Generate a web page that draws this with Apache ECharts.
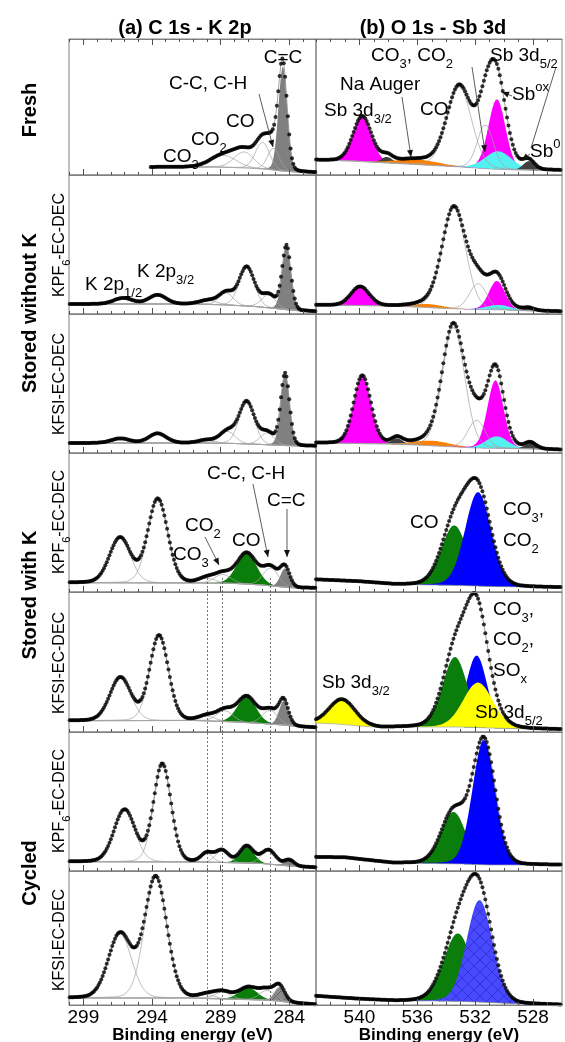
<!DOCTYPE html>
<html><head><meta charset="utf-8">
<script src="https://cdn.jsdelivr.net/npm/echarts@6/dist/echarts.min.js"></script>
<style>html,body{margin:0;padding:0;background:#fff}#c{width:565px;height:1042px}</style>
</head><body><div id="c"></div>
<script>
// ================= DATA (binding energy in eV, intensity in arbitrary units) =================
const L_TICKS = [299, 294, 289, 284];
const R_TICKS = [540, 536, 532, 528];
const C1S_REF_LINES = [290.0, 288.85, 285.35];   // dashed guide lines (CO3, CO2, C-C)

// Left column: C 1s - K 2p  (peak centre eV, height, FWHM eV, background anchors [eV, level])
const L1_names  = ['CO3','CO2','CO','C-C','C=C'];
const L1_center = [288.8, 287.3, 285.95, 285.15, 284.47];
const L1_height = [12, 16, 27, 22, 105];
const L1_fwhm   = [2.2, 1.7, 1.2, 1.0, 0.75];
const L1_bg     = [[294.1,8],[289.5,8],[287,7],[285.5,5.5],[284.6,4],[283.5,3],[282.05,2.5]];
const L1_range  = [294.1, 282.1];

const L2_names  = ['K 2p1/2','K 2p3/2','CO3','CO2','CO','C-C','C=C'];
const L2_center = [296.1, 293.6, 289.9, 288.6, 287.1, 285.5, 284.2];
const L2_height = [6, 9, 4, 12, 39, 13, 64];
const L2_fwhm   = [1.6, 1.5, 1.5, 1.2, 1.3, 1.2, 0.75];
const L2_bg     = [[300.05,10],[291,10],[288.5,9],[286.5,7.5],[285,5.5],[284,4],[283,3],[282.05,2.5]];
const L2_range  = [300.0, 282.1];

const L3_names  = ['K 2p1/2','K 2p3/2','CO3','CO2','CO','C-C','C=C'];
const L3_center = [296.3, 293.6, 290.0, 288.5, 287.1, 285.6, 284.3];
const L3_height = [4.5, 9.5, 3, 12, 42, 12, 72];
const L3_fwhm   = [1.6, 1.5, 1.4, 1.3, 1.3, 1.2, 0.75];
const L3_bg     = [[300.05,10],[291,10],[288,9.5],[286,8.5],[284.5,7.5],[283,7],[282.05,7]];
const L3_range  = [300.0, 282.1];

const L4_names  = ['K 2p1/2','K 2p3/2','CO3','CO2','CO','C-C','C=C'];
const L4_center = [296.33, 293.58, 290.0, 288.85, 287.1, 285.35, 284.3];
const L4_height = [45, 84, 5, 9, 31, 18, 19];
const L4_fwhm   = [1.8, 1.7, 1.4, 1.4, 1.7, 1.3, 0.8];
const L4_bg     = [[300.05,9.3],[291,9],[288,8.5],[286,7],[284.5,5],[283.5,4],[282.05,4]];
const L4_range  = [300.0, 282.1];

const L5_names  = ['K 2p1/2','K 2p3/2','CO3','CO2','CO','C-C','C=C'];
const L5_center = [296.3, 293.49, 290.0, 288.7, 287.1, 285.4, 284.4];
const L5_height = [43, 85, 5, 11, 26, 14, 24];
const L5_fwhm   = [1.8, 1.6, 1.4, 1.4, 1.6, 1.3, 0.8];
const L5_bg     = [[300.05,11.3],[291,11.5],[288,10],[286,8.5],[284.5,7],[283,5],[282.05,4.5]];
const L5_range  = [300.0, 282.1];

const L6_names  = ['K 2p1/2','K 2p3/2','CO3','CO2','CO','C-C','C=C'];
const L6_center = [296.0, 293.25, 290.0, 288.9, 287.1, 285.5, 284.0];
const L6_height = [52, 98, 9, 12, 17, 14, 6];
const L6_fwhm   = [1.8, 1.5, 1.0, 1.1, 1.2, 1.2, 0.8];
const L6_bg     = [[300.05,9.3],[292,9],[289,8.5],[286,7.5],[284,5],[282.05,3.5]];
const L6_range  = [300.0, 282.1];

const L7_names  = ['K 2p1/2','K 2p3/2','CO3','CO2','CO','C-C','C=C'];
const L7_center = [296.33, 293.73, 290.0, 288.85, 287.0, 285.6, 284.7];
const L7_height = [64, 121, 4, 7, 12, 10, 14];
const L7_fwhm   = [2.0, 1.9, 1.4, 1.4, 1.6, 1.3, 0.9];
const L7_bg     = [[300.05,7],[291.5,7],[289,6],[286,5],[284.8,4],[283.7,2],[282.05,0.5]];
const L7_range  = [300.0, 282.1];

// Right column: O 1s - Sb 3d
const R1_names  = ['Sb 3d3/2','Sb0 3d3/2','Na Auger','CO','CO3, CO2','Sb 3d5/2','Sbox','Sb0 3d5/2'];
const R1_center = [539.8, 538.1, 536.0, 533.1, 531.3, 530.5, 530.4, 528.3];
const R1_height = [45, 6, 5, 80, 44, 70, 18, 9];
const R1_fwhm   = [1.5, 0.9, 3.5, 2.0, 1.3, 1.4, 2.2, 0.9];
const R1_bg     = [[543,15],[540.5,14],[538,12],[535.5,10],[533,8],[531,6],[529,5],[526,4.5]];
const R1_range  = [543.0, 526.1];

const R2_names  = ['Sb 3d3/2','Na Auger','CO','CO3, CO2','Sb 3d5/2','Sbox','Sb0 3d5/2'];
const R2_center = [539.95, 535.3, 533.47, 531.8, 530.5, 530.4, 528.3];
const R2_height = [19, 3.5, 101, 26, 29, 5, 2.5];
const R2_fwhm   = [1.5, 2.5, 1.9, 1.4, 1.3, 2.0, 0.9];
const R2_bg     = [[543,9],[538,8],[536,7],[534,5.5],[532,4.5],[530,4],[528,3],[526,2.5]];
const R2_range  = [543.0, 526.1];

const R3_names  = ['Sb 3d3/2','Sb0 3d3/2','Na Auger','CO','CO3, CO2','Sb 3d5/2','Sbox','Sb0 3d5/2'];
const R3_center = [539.8, 537.4, 535.0, 533.5, 531.9, 530.6, 530.5, 528.2];
const R3_height = [68, 6, 5, 120, 28, 68, 12, 6];
const R3_fwhm   = [1.4, 0.9, 3.0, 1.8, 1.4, 1.3, 1.8, 0.9];
const R3_bg     = [[543,10],[538,9],[536,8],[534,6.5],[532,5],[530,4.5],[528,4],[526,3]];
const R3_range  = [543.0, 526.1];

const R4_names  = ['CO','CO3, CO2'];
const R4_center = [533.45, 531.8];
const R4_height = [60, 94];
const R4_fwhm   = [2.1, 2.1];
const R4_bg     = [[543,12.5],[540,10.5],[537.5,7.5],[535,7],[533,6.5],[531,5.5],[529,5],[526,4.5]];
const R4_range  = [543.0, 526.1];

const R5_names  = ['Sb 3d3/2','CO3, CO2, SOx','CO','Sb 3d5/2'];
const R5_center = [541.2, 531.9, 533.4, 531.8];
const R5_height = [25, 72, 70, 45];
const R5_fwhm   = [2.1, 1.7, 2.0, 2.4];
const R5_bg     = [[543,9],[541.5,8],[540,6],[538.5,4.5],[536,5],[533,5],[531,4],[528,3],[526,2.5]];
const R5_range  = [543.0, 526.1];

const R6_names  = ['CO','CO3, CO2'];
const R6_center = [533.5, 531.4];
const R6_height = [52, 125];
const R6_fwhm   = [2.0, 1.85];
const R6_bg     = [[543,14],[541,13.5],[539.5,11],[537.7,8],[535,7.5],[533,7],[531,6],[528,6],[526,6]];
const R6_range  = [543.0, 526.1];

const R7_names  = ['CO','CO3, CO2'];
const R7_center = [533.2, 531.7];
const R7_height = [68, 102];
const R7_fwhm   = [2.3, 2.1];
const R7_bg     = [[543,9],[540,6],[537.5,4],[535,4],[533,3.5],[531,2.5],[529,1],[526,0]];
const R7_range  = [543.0, 526.1];

// ================= STYLE / LAYOUT =================
const FF = '"Liberation Sans", Arial, Helvetica, sans-serif';
function hatch(bgc, linec){
  const c=document.createElement('canvas'); c.width=12; c.height=12;
  const g=c.getContext('2d'); g.fillStyle=bgc; g.fillRect(0,0,12,12);
  g.strokeStyle=linec; g.lineWidth=0.7; g.beginPath();
  g.moveTo(0,0); g.lineTo(12,12); g.moveTo(12,0); g.lineTo(0,12); g.stroke();
  return {image:c, repeat:'repeat'};
}
const GRAY='#808080', GREEN='#0a7d0a', BLUE='#0000ff', MAG='#ff00ff', CYAN='#55f0f0', ORG='#ff8000', DKG='#404040', YEL='#ffff00';
const BLUE_H = hatch('#4848ff','#2a2ac8');
const GRAY_H = hatch('#8a8a8a','#555555');
const FILLS = {
  L1:{'C=C':GRAY}, L2:{'C=C':GRAY}, L3:{'C=C':GRAY},
  L4:{'CO':GREEN,'C=C':GRAY}, L5:{'CO':GREEN,'C=C':GRAY}, L6:{'CO':GREEN,'C=C':GRAY}, L7:{'CO':GREEN,'C=C':GRAY_H},
  R1:{'Sb 3d3/2':MAG,'Sb0 3d3/2':DKG,'Na Auger':ORG,'Sb 3d5/2':MAG,'Sbox':CYAN,'Sb0 3d5/2':DKG},
  R2:{'Sb 3d3/2':MAG,'Na Auger':ORG,'Sb 3d5/2':MAG,'Sbox':CYAN,'Sb0 3d5/2':DKG},
  R3:{'Sb 3d3/2':MAG,'Sb0 3d3/2':DKG,'Na Auger':ORG,'Sb 3d5/2':MAG,'Sbox':CYAN,'Sb0 3d5/2':DKG},
  R4:{'CO':GREEN,'CO3, CO2':BLUE}, R5:{'Sb 3d3/2':YEL,'CO3, CO2, SOx':BLUE,'CO':GREEN,'Sb 3d5/2':YEL},
  R6:{'CO':GREEN,'CO3, CO2':BLUE}, R7:{'CO':GREEN,'CO3, CO2':BLUE_H}
};
const TOPS = [39,175,314,453,592,732,871];
const BOTS = [175,314,453,592,732,871,1005];
const COLS = [{left:69,width:247,dom:[282.05,300.05],ticks:L_TICKS,minor:[283,300]},
              {left:316,width:246,dom:[526,543],ticks:R_TICKS,minor:[527,543]}];

const P = (k,n,c,h,w,b,r)=>({key:k,names:n,center:c,height:h,fwhm:w,bg:b,range:r});
const PANELS = [
 [P('L1',L1_names,L1_center,L1_height,L1_fwhm,L1_bg,L1_range), P('R1',R1_names,R1_center,R1_height,R1_fwhm,R1_bg,R1_range)],
 [P('L2',L2_names,L2_center,L2_height,L2_fwhm,L2_bg,L2_range), P('R2',R2_names,R2_center,R2_height,R2_fwhm,R2_bg,R2_range)],
 [P('L3',L3_names,L3_center,L3_height,L3_fwhm,L3_bg,L3_range), P('R3',R3_names,R3_center,R3_height,R3_fwhm,R3_bg,R3_range)],
 [P('L4',L4_names,L4_center,L4_height,L4_fwhm,L4_bg,L4_range), P('R4',R4_names,R4_center,R4_height,R4_fwhm,R4_bg,R4_range)],
 [P('L5',L5_names,L5_center,L5_height,L5_fwhm,L5_bg,L5_range), P('R5',R5_names,R5_center,R5_height,R5_fwhm,R5_bg,R5_range)],
 [P('L6',L6_names,L6_center,L6_height,L6_fwhm,L6_bg,L6_range), P('R6',R6_names,R6_center,R6_height,R6_fwhm,R6_bg,R6_range)],
 [P('L7',L7_names,L7_center,L7_height,L7_fwhm,L7_bg,L7_range), P('R7',R7_names,R7_center,R7_height,R7_fwhm,R7_bg,R7_range)]
];

function lerpBg(bg,E){
  if(E>=bg[0][0]) return bg[0][1];
  for(let i=1;i<bg.length;i++){ if(E>=bg[i][0]){const [e0,h0]=bg[i-1],[e1,h1]=bg[i];const t=(E-e1)/(e0-e1);return h1+t*(h0-h1);} }
  return bg[bg.length-1][1];
}
function peak(E,c,h,w){const t=(E-c)/w;return h*(0.9*Math.exp(-4*Math.LN2*t*t)+0.1/(1+4*t*t));}
function energies(r){const out=[];const n=Math.round((r[0]-r[1])/0.1);for(let i=0;i<=n;i++)out.push(+(r[0]-i*0.1).toFixed(2));return out;}
function ints(a,b){const o=[];for(let v=a;v<=b;v++)o.push(v);return o;}

const grids=[],xAxes=[],yAxes=[],series=[];
function buildPanel(Pn,xa,ya,fills,mark){
  const Es=energies(Pn.range);
  const bgv=Es.map(E=>lerpBg(Pn.bg,E));
  const comps=Pn.names.map((n,i)=>Es.map(E=>peak(E,Pn.center[i],Pn.height[i],Pn.fwhm[i])));
  const tot=Es.map((E,k)=>bgv[k]+comps.reduce((s,c)=>s+c[k],0));
  const base={xAxisIndex:xa,yAxisIndex:ya,animation:false,silent:true};
  Pn.names.forEach((n,i)=>{
    const col=fills[n]; if(!col) return;
    const comp=comps[i];
    series.push({...base,type:'custom',z:2,data:[[Es[0],0]],
      renderItem:(params,api)=>{
        const idx=[]; for(let k=0;k<Es.length;k++) if(comp[k]>0.2) idx.push(k);
        if(!idx.length) return null;
        const pts=[];
        idx.forEach(k=>pts.push(api.coord([Es[k],bgv[k]+comp[k]])));
        for(let j=idx.length-1;j>=0;j--){const k=idx[j];pts.push(api.coord([Es[k],bgv[k]]));}
        return {type:'polygon',shape:{points:pts},style:{fill:col}};
      }});
  });
  Pn.names.forEach((n,i)=>{
    if(fills[n]) return;
    series.push({...base,type:'line',symbol:'none',data:Es.map((E,k)=>[E,bgv[k]+comps[i][k]]),lineStyle:{width:0.7,color:'#a4a4a4'},z:3});
  });
  const bgS={...base,type:'line',symbol:'none',data:Es.map((E,k)=>[E,bgv[k]]),lineStyle:{width:0.7,color:'#a4a4a4'},z:3};
  if(mark) bgS.markLine=mark;
  series.push(bgS);
  series.push({...base,type:'line',symbol:'none',data:Es.map((E,k)=>[E,tot[k]]),lineStyle:{width:0.8,color:'#8a8a8a'},z:4});
  series.push({...base,type:'scatter',symbol:'circle',symbolSize:4,data:Es.map((E,k)=>[E,tot[k]]),itemStyle:{color:'#000'},z:5});
}

for(let row=0;row<7;row++){
  for(let col=0;col<2;col++){
    const C=COLS[col], Pn=PANELS[row][col], g=grids.length, H=BOTS[row]-TOPS[row];
    grids.push({left:C.left,width:C.width,top:TOPS[row],height:H,show:true,borderColor:'#808080',borderWidth:1,containLabel:false,outerBoundsMode:'none'});
    const last=row===6;
    const mainIdx=xAxes.length;
    const common={gridIndex:g,type:'value',min:C.dom[0],max:C.dom[1],inverse:true,splitLine:{show:false},z:10};
    xAxes.push({...common,position:'bottom',axisLine:{show:true,lineStyle:{color:'#808080',width:1}},
      axisTick:{show:true,inside:true,length:6,customValues:C.ticks,lineStyle:{color:'#505050'}},
      axisLabel:{show:last,customValues:C.ticks,fontSize:19,color:'#000',margin:3,fontFamily:FF},
      name:last?'Binding energy (eV)':'',nameLocation:'middle',nameGap:22,nameMoveOverlap:false,
      nameTextStyle:{fontSize:17,fontWeight:'bold',fontFamily:FF,color:'#000'}});
    xAxes.push({...common,position:'bottom',axisLine:{show:false},
      axisTick:{show:true,inside:true,length:3,customValues:ints(C.minor[0],C.minor[1]),lineStyle:{color:'#505050'}},axisLabel:{show:false}});
    if(row===0){
      xAxes.push({...common,position:'top',axisLine:{show:true,lineStyle:{color:'#808080'}},
        axisTick:{show:true,inside:true,length:6,customValues:C.ticks,lineStyle:{color:'#505050'}},axisLabel:{show:false}});
      xAxes.push({...common,position:'top',axisLine:{show:false},
        axisTick:{show:true,inside:true,length:3,customValues:ints(C.minor[0],C.minor[1]),lineStyle:{color:'#505050'}},axisLabel:{show:false}});
    }
    yAxes.push({gridIndex:g,type:'value',min:0,max:H,show:false});
    let mark=null;
    if(col===0 && row>=3){
      const y1=row===3?16:H;
      mark={symbol:'none',silent:true,animation:false,label:{show:false},
        lineStyle:{type:[2,2],color:'#555',width:0.8},
        data:C1S_REF_LINES.map(E=>[{coord:[E,0]},{coord:[E,y1]}])};
    }
    buildPanel(Pn,mainIdx,g,FILLS[Pn.key],mark);
  }
}

// ================= ANNOTATIONS =================
function rich(fs,bold){
  const lh=Math.round(fs*1.5), ss=Math.round(fs*0.68);
  return {n:{fontSize:fs,fontFamily:FF,fontWeight:bold?'bold':'normal',fill:'#000',lineHeight:lh,verticalAlign:'middle'},
          s:{fontSize:ss,fontFamily:FF,fill:'#000',verticalAlign:'bottom',lineHeight:lh},
          p:{fontSize:ss,fontFamily:FF,fill:'#000',verticalAlign:'top',lineHeight:lh}};
}
function T(x,y,txt,opt={}){
  const fs=opt.fs||19;
  return {type:'text',x,y,rotation:opt.rot||0,z:100,silent:true,
    style:{text:txt,rich:rich(fs,opt.bold),fontSize:fs,fontFamily:FF,fill:'#000',align:opt.align||'left',verticalAlign:'middle'}};
}
function A(x1,y1,x2,y2,head=true){
  const els=[{type:'line',z:90,silent:true,shape:{x1,y1,x2,y2},style:{stroke:'#333',lineWidth:0.8}}];
  if(head){const a=Math.atan2(y2-y1,x2-x1),L=7,W=3,bx=x2-L*Math.cos(a),by=y2-L*Math.sin(a);
    els.push({type:'polygon',z:91,silent:true,shape:{points:[[x2,y2],[bx+W*Math.sin(a),by-W*Math.cos(a)],[bx-W*Math.sin(a),by+W*Math.cos(a)]]},style:{fill:'#111'}});}
  return els;
}
const R90=Math.PI/2;
const graphic=[
  T(185,28,'{n|(a) C 1s - K 2p}',{fs:20,bold:true,align:'center'}),
  T(433,28,'{n|(b) O 1s - Sb 3d}',{fs:20,bold:true,align:'center'}),
  T(30,110,'{n|Fresh}',{fs:20,bold:true,align:'center',rot:R90}),
  T(30,313,'{n|Stored without K}',{fs:20,bold:true,align:'center',rot:R90}),
  T(30,595,'{n|Stored with K}',{fs:20,bold:true,align:'center',rot:R90}),
  T(30,873,'{n|Cycled}',{fs:20,bold:true,align:'center',rot:R90}),
  T(60,245,'{n|KPF}{s|6}{n|-EC-DEC}',{fs:16,align:'center',rot:R90}),
  T(60,384,'{n|KFSI-EC-DEC}',{fs:16,align:'center',rot:R90}),
  T(60,522,'{n|KPF}{s|6}{n|-EC-DEC}',{fs:16,align:'center',rot:R90}),
  T(60,663,'{n|KFSI-EC-DEC}',{fs:16,align:'center',rot:R90}),
  T(60,801,'{n|KPF}{s|6}{n|-EC-DEC}',{fs:16,align:'center',rot:R90}),
  T(60,940,'{n|KFSI-EC-DEC}',{fs:16,align:'center',rot:R90}),
  // L1
  T(283,58,'{n|C=C}',{align:'center'}),
  T(169,84,'{n|C-C, C-H}'),
  T(226,122,'{n|CO}'),
  T(191,140,'{n|CO}{s|2}'),
  T(163,157,'{n|CO}{s|3}'),
  ...A(259,94,273,147),
  // L2
  T(85,285,'{n|K 2p}{s|1/2}'),
  T(137,272,'{n|K 2p}{s|3/2}'),
  // L4
  T(207,474,'{n|C-C, C-H}'),
  T(267,501,'{n|C=C}'),
  T(185,526,'{n|CO}{s|2}'),
  T(232,541,'{n|CO}'),
  T(173,555,'{n|CO}{s|3}'),
  ...A(205,537,219,565), ...A(253,484,268,557), ...A(287,509,287,557),
  // R1
  T(371,56,'{n|CO}{s|3}{n|, CO}{s|2}'),
  T(490,56,'{n|Sb 3d}{s|5/2}'),
  T(340,85,'{n|Na Auger}'),
  T(512,95,'{n|Sb}{p|ox}'),
  T(420,110,'{n|CO}'),
  T(324,111,'{n|Sb 3d}{s|3/2}'),
  T(530,152,'{n|Sb}{p|0}'),
  ...A(402,97,411,157), ...A(472,67,485,152), ...A(512,96,502,92), ...A(556,67,531,148,false), ...A(530,154,522,160),
  // R4
  T(410,523,'{n|CO}'),
  T(503,510,'{n|CO}{s|3}{n|,}'),
  T(503,541,'{n|CO}{s|2}'),
  // R5
  T(493,610,'{n|CO}{s|3}{n|,}'),
  T(493,640,'{n|CO}{s|2}{n|,}'),
  T(493,671,'{n|SO}{s|x}'),
  T(322,683,'{n|Sb 3d}{s|3/2}'),
  T(475,713,'{n|Sb 3d}{s|5/2}')
];

const chart=echarts.init(document.getElementById('c'),null,{renderer:'canvas'});
chart.setOption({animation:false,backgroundColor:'#fff',grid:grids,xAxis:xAxes,yAxis:yAxes,series,graphic});
</script></body></html>
